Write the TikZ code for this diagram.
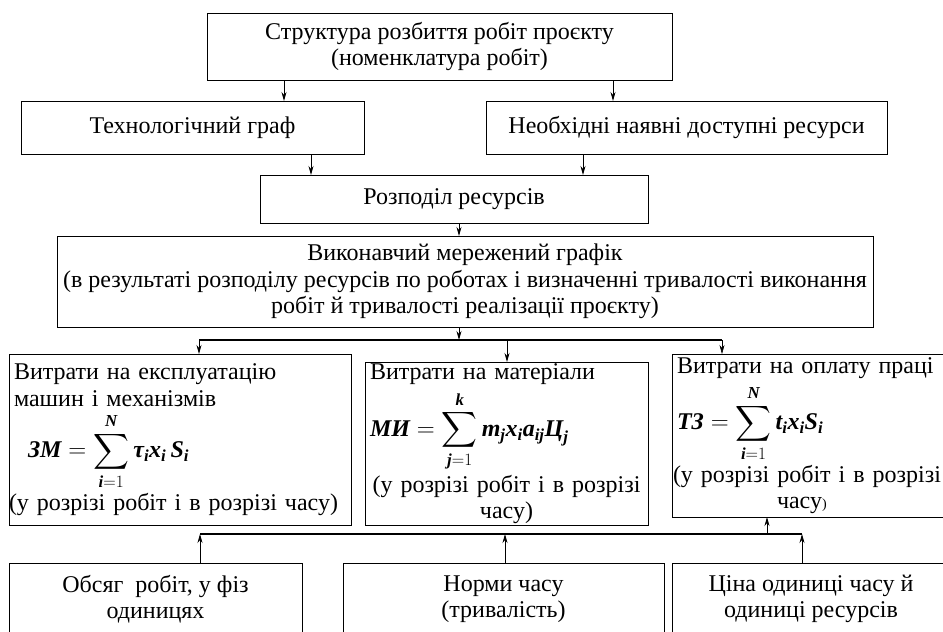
\documentclass[tikz,border=0pt]{standalone}
\usepackage{amsmath}
\usepackage{fontspec}
\setmainfont{Liberation Serif}
\usepackage{tikz}
\usetikzlibrary{arrows.meta}

\newcommand{\fv}[1]{\text{\normalfont\bfseries\itshape #1}}

\tikzset{
  frame/.style={draw, line width=1pt, outer sep=0pt, font=\fontsize{24}{26.5}\selectfont},
  box/.style={frame, inner sep=0pt, align=center},
  costbox/.style={frame, inner xsep=5pt, inner ysep=0pt, align=left,
    execute at begin node={\parindent=0pt}},
  arr/.style={line width=0.8pt, -{Stealth[length=9pt,width=5pt]}},
  bus/.style={line width=2pt}
}

\begin{document}
\begin{tikzpicture}[x=1pt,y=-1pt]
\useasboundingbox (0,0) rectangle (943,632);
\clip (0,0) rectangle (943,632);

% upper part
\node[box, minimum width=465, minimum height=67] (struct) at (439.5,46.5) {Структура розбиття робіт проєкту\\(номенклатура робіт)};
\node[box, minimum width=343, minimum height=53] (tech) at (192.5,127.5) {Технологічний граф};
\node[box, minimum width=401, minimum height=53] (need) at (686.5,127.5) {Необхідні наявні доступні ресурси};
\node[box, minimum width=388, minimum height=48] (rozp) at (454,199) {Розподіл ресурсів};
\node[box, minimum width=816, minimum height=91] (vykon) at (465,281.5) {Виконавчий мережений графік\\(в результаті розподілу ресурсів по роботах і визначенні тривалості виконання\\робіт й тривалості реалізації проєкту)};

% costs
\node[costbox, text width=332, minimum height=171] (exp) at (180,439.5) {Витрати на експлуатацію\\машин і механізмів\par\vspace{6pt}
  \hspace*{14pt}$\displaystyle \fv{ЗМ}=\sum_{\fv{i}=1}^{\fv{N}}\fv{τ}_{\fv{i}}\fv{x}_{\fv{i}}\,\fv{S}_{\fv{i}}$\par\vspace{2pt}
  \hspace*{-5pt}\mbox{(у розрізі робіт і в розрізі часу)}};
\node[costbox, text width=273, minimum height=163] (mat) at (506.5,443.5) {Витрати на матеріали\par\vspace{6pt}
  $\displaystyle \fv{МИ}=\sum_{\fv{j}=1}^{\fv{k}}\fv{m}_{\fv{j}}\fv{x}_{\fv{i}}\fv{a}_{\fv{ij}}\fv{Ц}_{\fv{j}}$\par\vspace{2pt}
  \centerline{(у розрізі робіт і в розрізі}\centerline{часу)}};
\node[costbox, text width=268, minimum height=163] (pay) at (811,435.5) {Витрати на оплату праці\par\vspace{6pt}
  $\displaystyle \fv{ТЗ}=\sum_{\fv{i}=1}^{\fv{N}}\fv{t}_{\fv{i}}\fv{x}_{\fv{i}}\fv{S}_{\fv{i}}$\par\vspace{2pt}
  \hspace*{-4pt}\mbox{(у розрізі робіт і в розрізі}\par
  \hspace*{100pt}часу{\fontsize{14}{14}\selectfont)}};

% inputs
\node[box, minimum width=293, minimum height=72] (obs) at (155.5,599) {Обсяг~~робіт, у фіз\\одиницях};
\node[box, minimum width=321, minimum height=72] (norm) at (503.5,599) {Норми часу\\(тривалість)};
\node[box, minimum width=278, minimum height=72] (price) at (811,599) {Ціна одиниці часу й\\одиниці ресурсів};

% connectors
\draw[arr] (struct.south -| 284,0) -- (tech.north -| 284,0);
\draw[arr] (struct.south -| 613,0) -- (need.north -| 613,0);
\draw[arr] (tech.south -| 311,0) -- (rozp.north -| 311,0);
\draw[arr] (need.south -| 583,0) -- (rozp.north -| 583,0);
\draw[arr] (rozp.south -| 459,0) -- (vykon.north -| 459,0);

\coordinate (topL) at (199,340);
\coordinate (topR) at (722,340);
\draw[bus] (topL) -- (topR);
\draw[arr] (vykon.south -| 459,0) -- (topL -| 459,0);
\draw[arr] (topL) -- (exp.north -| topL);
\draw[arr] (topL -| 507,0) -- (mat.north -| 507,0);
\draw[arr, line width=0.5pt] (topR) -- (pay.north -| topR);

\coordinate (botL) at (200,534);
\coordinate (botR) at (802,534);
\draw[bus] (botL) -- (botR);
\draw[arr] (obs.north -| botL) -- (botL);
\draw[arr] (norm.north -| 505,0) -- (botL -| 505,0);
\draw[arr] (price.north -| botR) -- (botR);
\draw[arr] (botL -| 767,0) -- (pay.south -| 767,0);
\end{tikzpicture}
\end{document}
